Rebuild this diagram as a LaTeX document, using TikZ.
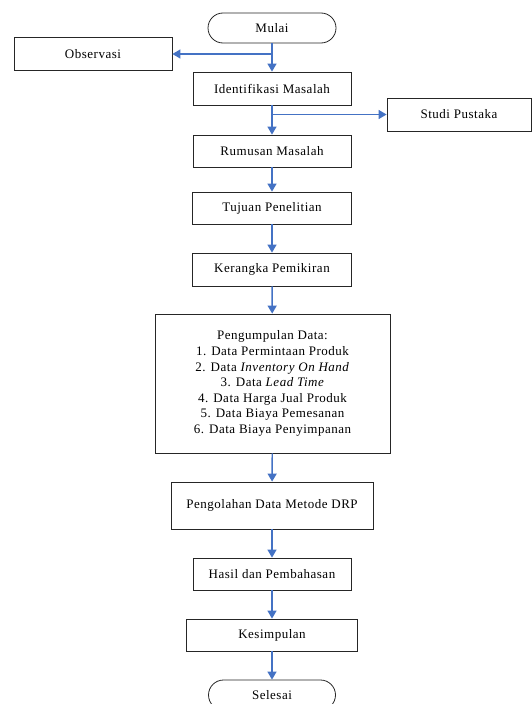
\documentclass[tikz,border=0pt]{standalone}
\usepackage{fontspec}
\setmainfont[LetterSpace=4]{Liberation Serif}
\usetikzlibrary{arrows.meta,positioning}
\definecolor{flowblue}{RGB}{68,114,196}
\tikzset{
  step box/.style={
      rectangle,
      draw=black!85,
      line width=0.8pt,
      inner sep=1mm,
      minimum height=33pt,
      font=\rmfamily\fontsize{13}{15.6}\selectfont
  },
  terminal/.style={
      step box,
      rounded corners=15pt,
      minimum height=30pt
  },
  flow/.style={
      -{Triangle[length=8pt,width=9pt]},
      draw=flowblue,
      fill=flowblue,
      line width=1.4pt
  }
}
\begin{document}
\begin{tikzpicture}[x=1pt,y=-1pt]
    \useasboundingbox (0,0) rectangle (532,704);
    \node[terminal,minimum width=128pt] (mulai) at (272,28) {Mulai};
    \node[step box,minimum width=158pt] (observasi) at (93,54) {Observasi};
    \node[step box,minimum width=158pt] (identifikasi) at (272,88.5) {Identifikasi Masalah};
    \node[step box,minimum width=144pt] (studi) at (459,114.5) {Studi Pustaka};
    \node[step box,minimum width=158pt,minimum height=32pt] (rumusan) at (272,151) {Rumusan Masalah};
    \node[step box,minimum width=159pt,minimum height=32pt] (tujuan) at (272,208) {Tujuan Penelitian};
    \node[step box,minimum width=159pt] (kerangka) at (272,269.5) {Kerangka Pemikiran};
    \node[step box,minimum width=235pt,minimum height=139pt,align=center] (pengumpulan) at (272.5,383.5)
      {Pengumpulan Data:\\
       1. Data Permintaan Produk\\
       2. Data \textit{Inventory On Hand}\\
       3. Data \textit{Lead Time}\\
       4. Data Harga Jual Produk\\
       5. Data Biaya Pemesanan\\
       6. Data Biaya Penyimpanan};
    \node[step box,minimum width=202pt,minimum height=47pt] (pengolahan) at (272,505.5) {Pengolahan Data Metode DRP};
    \node[step box,minimum width=158pt,minimum height=32pt] (hasil) at (272,574) {Hasil dan Pembahasan};
    \node[step box,minimum width=171pt,minimum height=32pt] (kesimpulan) at (272,635) {Kesimpulan};
    \node[terminal,minimum width=127pt] (selesai) at (272,695) {Selesai};

    % branches to the side boxes
    \coordinate (obsfork) at (mulai.south |- observasi.east);
    \coordinate (studifork) at (identifikasi.south |- studi.west);
    \draw[flow] (obsfork) -- (observasi);
    \draw[flow] (studifork) -- (studi);

    % main flow
    \draw[flow] (mulai) -- (identifikasi);
    \draw[flow] (identifikasi) -- (rumusan);
    \draw[flow] (rumusan) -- (tujuan);
    \draw[flow] (tujuan) -- (kerangka);
    \draw[flow] (kerangka) -- (pengumpulan);
    \draw[flow] (pengumpulan) -- (pengolahan);
    \draw[flow] (pengolahan) -- (hasil);
    \draw[flow] (hasil) -- (kesimpulan);
    \draw[flow] (kesimpulan) -- (selesai);
\end{tikzpicture}
\end{document}
